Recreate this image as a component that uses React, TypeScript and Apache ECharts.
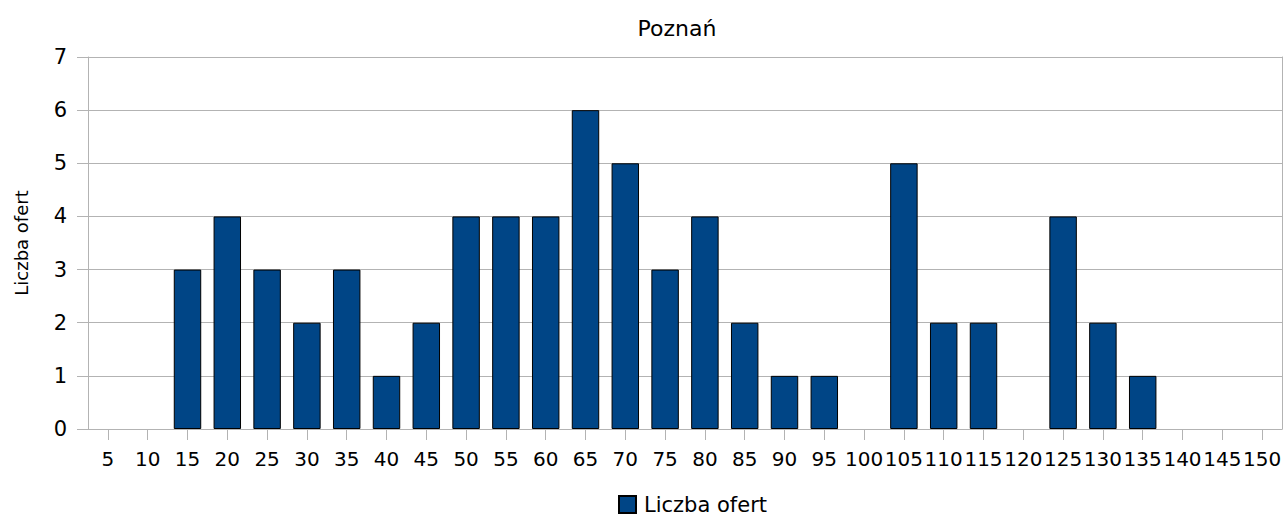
import React, { useEffect, useRef } from "react";
import * as echarts from "echarts";

const categories = ["5","10","15","20","25","30","35","40","45","50","55","60","65","70","75","80","85","90","95","100","105","110","115","120","125","130","135","140","145","150"];
const values = [0,0,3,4,3,2,3,1,2,4,4,4,6,5,3,4,2,1,1,0,5,2,2,0,4,2,1,0,0,0];
const seriesName = "Liczba ofert";
const titleText = "Poznań";
const yAxisName = "Liczba ofert";

export default function App() {
  const ref = useRef<HTMLDivElement>(null);
  useEffect(() => {
    if (!ref.current) return;
    const chart = echarts.init(ref.current, null, { renderer: "svg" });
    const font = "DejaVu Sans";
    const grey = "#b3b3b3";
    chart.setOption({
      animation: false,
      backgroundColor: "#ffffff",
      textStyle: { fontFamily: font },
      title: {
        text: titleText,
        left: 672,
        top: 12,
        textAlign: "center",
        textStyle: { fontFamily: font, fontSize: 22, fontWeight: "normal", color: "#000" },
      },
      legend: {
        data: [seriesName],
        left: 618,
        top: 494,
        padding: 0,
        itemWidth: 17,
        itemHeight: 17,
        itemGap: 8,
        icon: "rect",
        textStyle: { fontFamily: font, fontSize: 21, color: "#000", padding: [0, 0, 0, 3] },
      },
      grid: {
        left: 88,
        right: 3,
        top: 57,
        bottom: 88,
        containLabel: false,
      },
      xAxis: {
        type: "category",
        data: categories,
        axisLine: { show: true, lineStyle: { color: grey } },
        axisTick: { show: true, alignWithLabel: true, length: 11, lineStyle: { color: grey } },
        axisLabel: { interval: 0, fontFamily: font, fontSize: 20, color: "#000", margin: 20 },
        splitLine: { show: false },
      },
      yAxis: [
        {
          type: "value",
          min: 0,
          max: 7,
          interval: 1,
          name: yAxisName,
          nameLocation: "middle",
          nameGap: 58,
          nameTextStyle: { fontFamily: font, fontSize: 18, color: "#000" },
          axisLine: { show: true, lineStyle: { color: grey } },
          axisTick: { show: true, length: 11, lineStyle: { color: grey } },
          axisLabel: { fontFamily: font, fontSize: 21, color: "#000", margin: 21 },
          splitLine: { show: true, lineStyle: { color: grey } },
        },
        {
          type: "value",
          position: "right",
          min: 0,
          max: 7,
          interval: 1,
          axisLine: { show: true, lineStyle: { color: grey } },
          axisTick: { show: false },
          axisLabel: { show: false },
          splitLine: { show: false },
        },
      ],
      series: [
        {
          name: seriesName,
          type: "bar",
          data: values.map((v) => (v === 0 ? { value: v, itemStyle: { borderWidth: 0 } } : v)),
          barWidth: "69%",
          itemStyle: { color: "#004586", borderColor: "#000000", borderWidth: 1 },
        },
      ],
    });
    return () => chart.dispose();
  }, []);
  return <div ref={ref} style={{ width: 1285, height: 517, position: "absolute", left: 0, top: 0 }} />;
}
